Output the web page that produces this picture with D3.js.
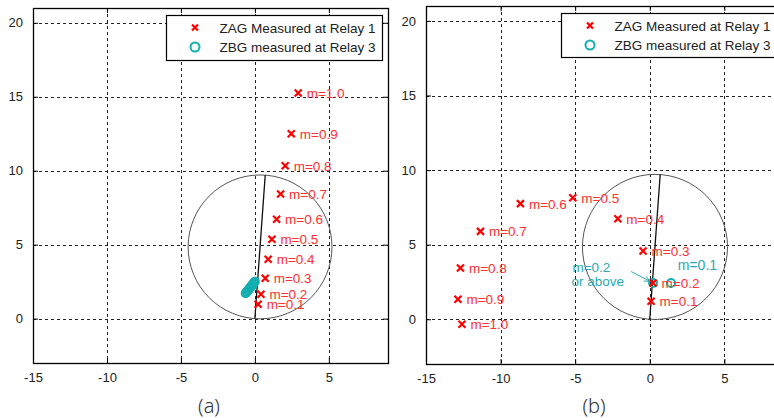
<!DOCTYPE html>
<html>
<head>
<meta charset="utf-8">
<script src="https://cdn.jsdelivr.net/npm/d3@7"></script>
<style>
  html, body { margin: 0; padding: 0; background: #fff; }
  svg { display: block; }
</style>
</head>
<body>
<svg id="chart" width="774" height="418"></svg>
<script>
// Impedance trajectories (R-X plane, ohms) for fault position m
const mLabels = ["m=0.1","m=0.2","m=0.3","m=0.4","m=0.5","m=0.6","m=0.7","m=0.8","m=0.9","m=1.0"];

// Panel (a)
const zagAX = [0.22, 0.41, 0.70, 0.90, 1.15, 1.47, 1.74, 2.05, 2.46, 2.93];
const zagAY = [0.97, 1.65, 2.73, 4.02, 5.37, 6.72, 8.42, 10.33, 12.50, 15.25];
const zbgAX = [-0.62, -0.55, -0.48, -0.42, -0.35, -0.28, -0.21, -0.14, -0.07, 0.00];
const zbgAY = [1.72, 1.80, 1.88, 1.97, 2.05, 2.14, 2.23, 2.32, 2.41, 2.50];

// Panel (b)
const zagBX = [0.09, 0.22, -0.45, -2.14, -5.16, -8.67, -11.35, -12.69, -12.86, -12.59];
const zagBY = [1.21, 2.43, 4.58, 6.74, 8.15, 7.75, 5.89, 3.44, 1.34, -0.33];
const zbgBX = [1.43, 0.22];
const zbgBY = [2.43, 2.43];

// Mho characteristic: reach line end point; the circle has it as diameter
const reachX = [0, 0.70];
const reachY = [0, 9.70];

const xTicks = [-15, -10, -5, 0, 5];
const yTicks = [0, 5, 10, 15, 20];
const xDomain = [-15, 9];
const yDomain = [-3, 21];
const legendNames = ["ZAG Measured at Relay 1", "ZBG measured at Relay 3"];

const RED = "#ff0000";
const RED_TXT = "#ff3030";
const TEAL = "#12aeb0";
const TEAL_TXT = "#2aa9b2";

const svg = d3.select("#chart");
const plainNum = d => String(d);   // ASCII hyphen for negatives

function drawPanel(cfg) {
  const g = svg.append("g");
  const x = d3.scaleLinear().domain(xDomain).range([cfg.left, cfg.right]);
  const y = d3.scaleLinear().domain(yDomain).range([cfg.bottom, cfg.top]);

  const clipId = "clip" + cfg.id;
  svg.append("clipPath").attr("id", clipId)
    .append("rect").attr("x", cfg.left).attr("y", cfg.top)
    .attr("width", cfg.right - cfg.left).attr("height", cfg.bottom - cfg.top);

  // dashed grid
  const grid = g.append("g").attr("stroke", "#222").attr("stroke-width", 1)
    .attr("stroke-dasharray", "3,3");
  grid.selectAll("line.v").data(xTicks).join("line")
    .attr("x1", d => Math.round(x(d)) + 0.5).attr("x2", d => Math.round(x(d)) + 0.5)
    .attr("y1", cfg.top).attr("y2", cfg.bottom);
  grid.selectAll("line.h").data(yTicks).join("line")
    .attr("y1", d => Math.round(y(d)) + 0.5).attr("y2", d => Math.round(y(d)) + 0.5)
    .attr("x1", cfg.left).attr("x2", cfg.right);

  // axes (ticks pointing inward, labels outside)
  const xAxis = d3.axisBottom(x).tickValues(xTicks).tickSize(-5).tickPadding(10).tickFormat(plainNum);
  const yAxis = d3.axisLeft(y).tickValues(yTicks).tickSize(-5).tickPadding(10).tickFormat(plainNum);
  const xTop = d3.axisTop(x).tickValues(xTicks).tickSize(-5).tickFormat("");
  const yRight = d3.axisRight(y).tickValues(yTicks).tickSize(-5).tickFormat("");

  [[xAxis, `translate(0,${cfg.bottom})`], [yAxis, `translate(${cfg.left},0)`],
   [xTop, `translate(0,${cfg.top})`], [yRight, `translate(${cfg.right},0)`]].forEach(([ax, tr]) => {
    const a = g.append("g").attr("transform", tr).call(ax);
    a.select(".domain").remove();
    a.selectAll(".tick line").attr("stroke", "#000");
    a.selectAll("text").attr("fill", "#222")
      .style("font-family", "'Liberation Sans', Arial, sans-serif").style("font-size", "13px");
  });

  // plot box
  g.append("rect").attr("x", cfg.left + 0.5).attr("y", cfg.top + 0.5)
    .attr("width", cfg.right - cfg.left).attr("height", cfg.bottom - cfg.top)
    .attr("fill", "none").attr("stroke", "#000").attr("stroke-width", 1.3);

  const plot = g.append("g").attr("clip-path", `url(#${clipId})`);

  // mho circle and reach line
  const cx = (reachX[0] + reachX[1]) / 2, cy = (reachY[0] + reachY[1]) / 2;
  const r = Math.hypot(reachX[1] - reachX[0], reachY[1] - reachY[0]) / 2;
  plot.append("ellipse")
    .attr("cx", x(cx)).attr("cy", y(cy))
    .attr("rx", x(cx + r) - x(cx)).attr("ry", y(cy) - y(cy + r))
    .attr("fill", "none").attr("stroke", "#555").attr("stroke-width", 1);
  plot.append("line")
    .attr("x1", x(reachX[0])).attr("y1", y(reachY[0]))
    .attr("x2", x(reachX[1])).attr("y2", y(reachY[1]))
    .attr("stroke", "#111").attr("stroke-width", 1.3);

  // ZBG points (teal circles)
  plot.selectAll("circle.zbg").data(d3.range(cfg.zbgX.length)).join("circle")
    .attr("cx", i => x(cfg.zbgX[i])).attr("cy", i => y(cfg.zbgY[i]))
    .attr("r", 4).attr("fill", "none").attr("stroke", TEAL).attr("stroke-width", 2);

  // ZAG points (red crosses) with labels
  const s = 3.5;
  const idx = d3.range(cfg.zagX.length);
  plot.selectAll("path.zag").data(idx).join("path")
    .attr("d", i => {
      const px = x(cfg.zagX[i]), py = y(cfg.zagY[i]);
      return `M${px - s},${py - s}L${px + s},${py + s}M${px - s},${py + s}L${px + s},${py - s}`;
    })
    .attr("stroke", RED).attr("stroke-width", 2.2).attr("fill", "none");
  plot.selectAll("text.lbl").data(idx).join("text")
    .attr("x", i => x(cfg.zagX[i]) + 8.5).attr("y", i => y(cfg.zagY[i]) + 5)
    .attr("fill", RED_TXT)
    .style("font-family", "'Liberation Sans', Arial, sans-serif").style("font-size", "13.5px")
    .text(i => mLabels[i]);

  if (cfg.extra) cfg.extra(plot, x, y);

  // legend
  const L = cfg.legend;
  const lg = g.append("g");
  lg.append("rect").attr("x", L.x + 0.5).attr("y", L.y + 0.5).attr("width", L.w).attr("height", L.h)
    .attr("fill", "#fff").attr("stroke", "#000").attr("stroke-width", 1.2);
  const r1 = L.y + 12.5, r2 = L.y + 32;
  lg.append("path")
    .attr("d", `M${L.x + 26},${r1 - 3}L${L.x + 32},${r1 + 3}M${L.x + 26},${r1 + 3}L${L.x + 32},${r1 - 3}`)
    .attr("stroke", RED).attr("stroke-width", 2.2);
  lg.append("circle").attr("cx", L.x + 29).attr("cy", r2).attr("r", 4.5)
    .attr("fill", "none").attr("stroke", TEAL).attr("stroke-width", 2);
  lg.selectAll("text").data(legendNames).join("text")
    .attr("x", L.x + 53.5).attr("y", (d, i) => (i === 0 ? r1 : r2) + 5)
    .attr("fill", "#222")
    .style("font-family", "'Liberation Sans', Arial, sans-serif").style("font-size", "13.5px")
    .text(d => d);

  // panel caption
  g.append("text").attr("x", cfg.captionX).attr("y", 413).attr("text-anchor", "middle")
    .attr("fill", "#333").style("font-family", "'Noto Sans', sans-serif").style("font-size", "20px")
    .style("font-weight", "300")
    .text(cfg.caption);
}

drawPanel({
  id: "a", left: 33, right: 388, top: 8, bottom: 363,
  zagX: zagAX, zagY: zagAY, zbgX: zbgAX, zbgY: zbgAY,
  legend: { x: 166, y: 15, w: 216, h: 45 },
  caption: "(a)", captionX: 209
});

drawPanel({
  id: "b", left: 426, right: 784, top: 6, bottom: 364,
  zagX: zagBX, zagY: zagBY, zbgX: zbgBX, zbgY: zbgBY,
  legend: { x: 561, y: 13, w: 217, h: 44 },
  caption: "(b)", captionX: 594,
  extra: (plot, x, y) => {
    const font = "'Liberation Sans', Arial, sans-serif";
    plot.append("text").attr("x", x(1.88)).attr("y", y(3.28)).attr("fill", TEAL_TXT)
      .style("font-family", font).style("font-size", "14px").text("m=0.1");
    const t = plot.append("text").attr("fill", TEAL_TXT)
      .style("font-family", font).style("font-size", "13.5px");
    t.append("tspan").attr("x", x(-5.18)).attr("y", y(3.15)).text("m=0.2");
    t.append("tspan").attr("x", x(-5.25)).attr("y", y(2.22)).text("or above");
    // arrow toward the m>=0.2 cluster
    const x0 = x(-1.25), y0 = y(3.2), x1 = x(0.0), y1 = y(2.55);
    const ang = Math.atan2(y1 - y0, x1 - x0), h = 6;
    plot.append("path")
      .attr("d", `M${x0},${y0}L${x1},${y1}` +
        `M${x1 - h * Math.cos(ang - 0.45)},${y1 - h * Math.sin(ang - 0.45)}L${x1},${y1}` +
        `L${x1 - h * Math.cos(ang + 0.45)},${y1 - h * Math.sin(ang + 0.45)}`)
      .attr("stroke", TEAL_TXT).attr("stroke-width", 1).attr("fill", "none");
  }
});
</script>
</body>
</html>
